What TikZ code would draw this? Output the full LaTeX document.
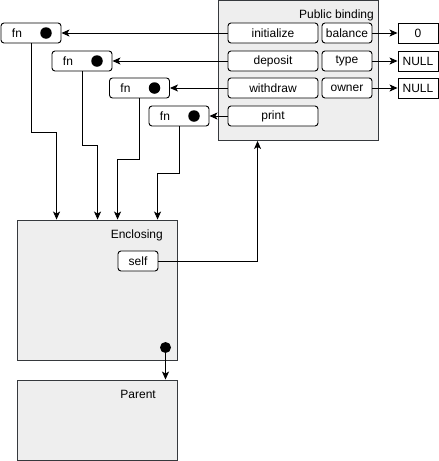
\documentclass[tikz,border=0pt]{standalone}
\usepackage{fontspec}
\setmainfont{Liberation Sans}
\usetikzlibrary{arrows.meta,positioning,calc}
\definecolor{ink}{HTML}{000000}
\definecolor{panelgray}{HTML}{EEEEEE}
\definecolor{paneledge}{HTML}{36393D}
\newcommand{\diagfont}{\fontsize{12}{14}\selectfont}
\tikzset{
  panel/.style={draw=paneledge,fill=panelgray,line width=0.9pt,inner sep=0pt},
  slot/.style={draw=ink,fill=white,line width=0.9pt,rounded corners=3pt,
               minimum height=20pt,inner sep=0pt,font=\diagfont},
  valbox/.style={draw=ink,fill=white,line width=0.9pt,
                 minimum width=40pt,minimum height=20pt,inner sep=0pt,font=\diagfont},
  fnbox/.style={slot,minimum width=60pt},
  caption/.style={inner sep=0pt,font=\diagfont,text=ink},
  dot/.style={circle,fill=ink,minimum size=11.5pt,inner sep=0pt},
  arr/.style={-{Stealth[length=8pt,width=7pt,inset=2pt]},line width=0.9pt,draw=ink}
}
\begin{document}
\begin{tikzpicture}[x=1pt,y=-1pt]
    \path[use as bounding box] (0,0) rectangle (439,461);
    % frames
    \node[panel,minimum width=160pt,minimum height=140pt] (pub) at (298,70.5) {};
    \node[caption,anchor=east] (publbl) at (374,15) {Public binding};
    \node[panel,minimum width=160pt,minimum height=140pt] (enc) at (97,290) {};
    \node[caption,anchor=east] (enclbl) at (163,235) {Enclosing};
    \node[panel,minimum width=160pt,minimum height=80pt] (par) at (97,420) {};
    \node[caption,anchor=east] (parlbl) at (156,394) {Parent};

    % public binding slots
    \node[slot,minimum width=90pt] (init) at (273,33) {initialize};
    \node[slot,minimum width=50pt] (bal) at (347,33) {balance};
    \node[valbox] (zero) at (418,33) {0};
    \node[slot,minimum width=90pt] (dep) at (273,61) {deposit};
    \node[slot,minimum width=50pt] (type) at (347,61) {type};
    \node[valbox] (nullA) at (418,61) {NULL};
    \node[slot,minimum width=90pt] (wdr) at (273,88) {withdraw};
    \node[slot,minimum width=50pt] (own) at (347,88) {owner};
    \node[valbox] (nullB) at (418,88) {NULL};
    \node[slot,minimum width=90pt] (prt) at (273,116) {print};

    % function objects
    \node[fnbox] (fnA) at (31,33) {};
    \node[caption] (fnAl) at ([xshift=-14pt]fnA.center) {fn};
    \node[dot] (fnAd) at ([xshift=15pt]fnA.center) {};
    \node[fnbox] (fnB) at (82,61) {};
    \node[caption] (fnBl) at ([xshift=-14pt]fnB.center) {fn};
    \node[dot] (fnBd) at ([xshift=15pt]fnB.center) {};
    \node[fnbox] (fnC) at (139.5,88) {};
    \node[caption] (fnCl) at ([xshift=-14pt]fnC.center) {fn};
    \node[dot] (fnCd) at ([xshift=15pt]fnC.center) {};
    \node[fnbox] (fnD) at (179,116) {};
    \node[caption] (fnDl) at ([xshift=-14pt]fnD.center) {fn};
    \node[dot] (fnDd) at ([xshift=15pt]fnD.center) {};

    % enclosing contents
    \node[slot,minimum width=40pt] (self) at (138,261) {self};
    \node[dot,minimum size=11pt] (encd) at (165.5,347.5) {};

    \coordinate (encA) at ([xshift=40pt]enc.north west);
    \coordinate (encB) at ([xshift=81pt]enc.north west);
    \coordinate (encC) at ([xshift=101pt]enc.north west);
    \coordinate (encD) at ([xshift=141pt]enc.north west);
    \coordinate (pubS) at ([xshift=40pt]pub.south west);
    \coordinate (parT) at (encd |- par.north);

    % connectors
    \draw[arr] (init.west) -- (fnA.east);
    \draw[arr] (dep.west) -- (fnB.east);
    \draw[arr] (wdr.west) -- (fnC.east);
    \draw[arr] (prt.west) -- (fnD.east);
    \draw[arr] (bal.east) -- (zero.west);
    \draw[arr] (type.east) -- (nullA.west);
    \draw[arr] (own.east) -- (nullB.west);
    \draw[arr] (fnA.south) -- ++(0,89) -| (encA);
    \draw[arr] (fnB.south) -- ++(0,74) -| (encB);
    \draw[arr] (fnC.south) -- ++(0,61) -| (encC);
    \draw[arr] (fnD.south) -- ++(0,47) -| (encD);
    \draw[arr] (self.east) -| (pubS);
    \draw[arr] (encd.center) -- (parT);
  \end{tikzpicture}
\end{document}
